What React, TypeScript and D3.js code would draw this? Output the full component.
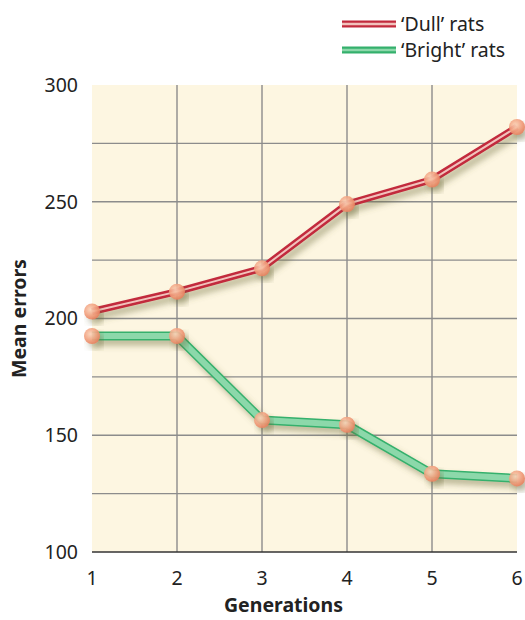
import * as React from 'react'
import * as d3 from 'd3'

const generations = [1, 2, 3, 4, 5, 6]
const dullRats = [203, 211.5, 221.5, 249, 259.5, 282]
const brightRats = [192.5, 192.5, 156.5, 154.5, 133.5, 131.5]
const yTicks = [100, 150, 200, 250, 300]
const yGrid = [125, 150, 175, 200, 225, 250, 275]
const seriesNames = ['\u2018Dull\u2019 rats', '\u2018Bright\u2019 rats']

const W = 525
const H = 620
const margin = { top: 85, right: 8, bottom: 68, left: 92 }
const font = '"Noto Sans", "Open Sans", sans-serif'

export default function App () {
    const x = d3.scaleLinear().domain([1, 6]).range([margin.left, W - margin.right])
    const y = d3.scaleLinear().domain([100, 300]).range([H - margin.bottom, margin.top])
    const line = d3.line<number>()
        .x((_, i) => x(generations[i]))
        .y(d => y(d))

    const series = [
        { name: seriesNames[0], values: dullRats, outer: '#c22a3c', outerW: 7, inner: '#f2c2bc', innerW: 2 },
        { name: seriesNames[1], values: brightRats, outer: '#34b06c', outerW: 9, inner: '#8cd8aa', innerW: 6 }
    ]

    return <svg width={W} height={H} style={{ position: 'absolute', left: 0, top: 0 }}>
        <defs>
            <filter id='shadow' x='-20%' y='-20%' width='140%' height='160%'>
                <feGaussianBlur in='SourceAlpha' stdDeviation='3' />
                <feOffset dx='4' dy='5' result='off' />
                <feFlood floodColor='#6b6a3a' floodOpacity='0.45' />
                <feComposite in2='off' operator='in' />
                <feMerge>
                    <feMergeNode />
                    <feMergeNode in='SourceGraphic' />
                </feMerge>
            </filter>
            <radialGradient id='ball' cx='40%' cy='38%' r='65%'>
                <stop offset='0%' stopColor='#fbd3b8' />
                <stop offset='60%' stopColor='#f2a07e' />
                <stop offset='100%' stopColor='#e77f5c' />
            </radialGradient>
        </defs>

        <rect x={margin.left} y={margin.top} width={W - margin.left - margin.right}
            height={H - margin.top - margin.bottom} fill='#fdf6e1' />

        {yGrid.map(v => <line key={'h' + v} x1={margin.left} x2={W - margin.right}
            y1={y(v)} y2={y(v)} stroke='#8c8c8c' strokeWidth={1.4} />)}
        {generations.slice(1, -1).map(g => <line key={'v' + g} x1={x(g)} x2={x(g)}
            y1={margin.top} y2={H - margin.bottom} stroke='#8c8c8c' strokeWidth={1.4} />)}
        <line x1={margin.left} x2={W - margin.right} y1={y(100)} y2={y(100)} stroke='#333' strokeWidth={1.5} />

        {yTicks.map(v => <text key={'yt' + v} x={78} y={y(v)} dy='0.35em' textAnchor='end'
            fontFamily={font} fontSize={19.5} fill='#222'>{v}</text>)}
        {generations.map(g => <text key={'xt' + g} x={x(g)} y={H - margin.bottom + 33} textAnchor='middle'
            fontFamily={font} fontSize={19.5} fill='#222'>{g}</text>)}

        <text x={(margin.left + W - margin.right) / 2 - 21} y={612} textAnchor='middle'
            fontFamily={font} fontSize={19.5} fontWeight='bold' fill='#222'>Generations</text>
        <text transform={`translate(26, ${(margin.top + H - margin.bottom) / 2}) rotate(-90)`}
            textAnchor='middle' fontFamily={font} fontSize={19.5} fontWeight='bold' fill='#222'>Mean errors</text>

        {series.map(s => <g key={s.name}>
            <g filter='url(#shadow)'>
                <path d={line(s.values) || ''} fill='none' stroke={s.outer} strokeWidth={s.outerW} strokeLinejoin='round' />
                <path d={line(s.values) || ''} fill='none' stroke={s.inner} strokeWidth={s.innerW} strokeLinejoin='round' />
            </g>
            {s.values.map((v, i) => <circle key={i} cx={x(generations[i])} cy={y(v)} r={8}
                fill='url(#ball)' fillOpacity={0.9} filter='url(#shadow)' />)}
        </g>)}

        {series.map((s, i) => <g key={'lg' + i} transform={`translate(342, ${24 + i * 26})`}>
            <line x1={0} x2={54} y1={0} y2={0} stroke={s.outer} strokeWidth={7} />
            <line x1={0} x2={54} y1={0} y2={0} stroke={s.inner} strokeWidth={2.5} />
            <text x={59} y={0} dy='0.35em' fontFamily={font} fontSize={19.5} fill='#222'>{s.name}</text>
        </g>)}
    </svg>
}
